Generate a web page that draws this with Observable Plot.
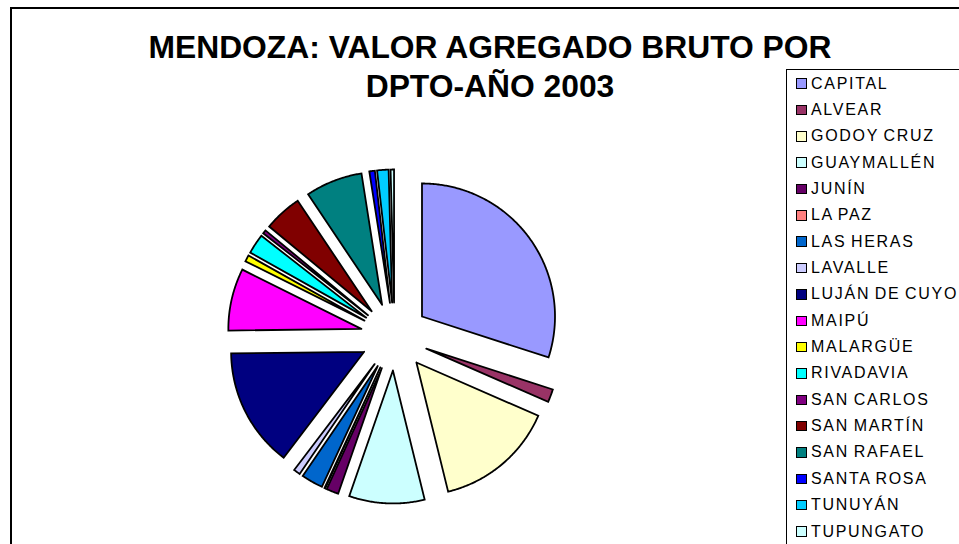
<!DOCTYPE html>
<html>
<head>
<meta charset="utf-8">
<script src="https://cdn.jsdelivr.net/npm/d3@7"></script>
<script src="https://cdn.jsdelivr.net/npm/@observablehq/plot@0.6"></script>
<style>
  html, body { margin: 0; padding: 0; background: #fff; overflow: hidden; }
  body { width: 959px; height: 544px; position: relative; font-family: "Liberation Sans", Arial, sans-serif; }
  #frame { position: absolute; left: 10px; top: 7px; width: 980px; height: 600px; border: 2px solid #000; box-sizing: border-box; }
  #chart { position: absolute; left: 0; top: 0; }
  #title { position: absolute; left: 140px; width: 700px; top: 28px; text-align: center; font-weight: bold; font-size: 31.8px; line-height: 39px; color: #000; }
  #legendbox { position: absolute; left: 786px; top: 69px; width: 300px; height: 600px; border: 1.5px solid #000; box-sizing: border-box; background: #fff; }
  #legend { position: absolute; left: 796px; top: 70.5px; }
  .item { display: flex; align-items: center; height: 26.35px; }
  .sw { width: 8.5px; height: 8.5px; border: 1.6px solid #000; margin-right: 4.5px; flex: none; }
  .lbl { font-size: 16px; letter-spacing: 1.7px; word-spacing: -1.5px; color: #000; white-space: nowrap; }
</style>
</head>
<body>
<div id="frame"></div>
<div id="chart"></div>
<div id="title">MENDOZA: VALOR AGREGADO BRUTO POR<br>DPTO-AÑO 2003</div>
<div id="legendbox"></div>
<div id="legend"></div>
<script>
// Departments (clockwise from 12 o'clock, same order as legend)
const departments = ["CAPITAL", "ALVEAR", "GODOY CRUZ", "GUAYMALLÉN", "JUNÍN", "LA PAZ", "LAS HERAS", "LAVALLE", "LUJÁN DE CUYO", "MAIPÚ", "MALARGÜE", "RIVADAVIA", "SAN CARLOS", "SAN MARTÍN", "SAN RAFAEL", "SANTA ROSA", "TUNUYÁN", "TUPUNGATO"];
// Share of gross value added (%)
const shares = [30.0, 1.58, 14.61, 9.17, 1.47, 0.1, 2.64, 0.81, 14.47, 7.56, 0.78, 2.42, 0.44, 4.61, 6.92, 0.67, 1.39, 0.42];
// Excel default pie palette
const palette = ["#9999FF", "#993366", "#FFFFCC", "#CCFFFF", "#660066", "#FF8080", "#0066CC", "#CCCCFF", "#000080", "#FF00FF", "#FFFF00", "#00FFFF", "#800080", "#800000", "#008080", "#0000FF", "#00CCFF", "#CCFFFF"];

// Layout (pixels)
const cx = 394, cy = 336, R = 133, explode = 34 / 133;

// Build slice polygons in unit-circle coordinates from the data
const arcs = d3.pie().sort(null).value((d, i) => shares[i])(departments);
const points = [];
arcs.forEach((a, i) => {
  const name = departments[i];
  const mid = (a.startAngle + a.endAngle) / 2;
  const ox = explode * Math.sin(mid), oy = explode * Math.cos(mid);
  const pts = [[ox, oy]];
  const n = Math.max(2, Math.ceil((a.endAngle - a.startAngle) / (Math.PI / 360)));
  for (let k = 0; k <= n; k++) {
    const t = a.startAngle + (a.endAngle - a.startAngle) * k / n;
    pts.push([ox + Math.sin(t), oy + Math.cos(t)]);
  }
  pts.push([ox, oy]);
  pts.forEach(([x, y]) => points.push({name, x, y}));
});

const plot = Plot.plot({
  width: 959,
  height: 544,
  margin: 0,
  style: {background: "transparent", overflow: "visible"},
  x: {domain: [-1, 1], range: [cx - R, cx + R], axis: null},
  y: {domain: [-1, 1], range: [cy + R, cy - R], axis: null},
  color: {domain: departments, range: palette},
  marks: [
    Plot.line(points, {x: "x", y: "y", z: "name", fill: "name", stroke: "#000", strokeWidth: 1.8, strokeLinejoin: "miter", strokeMiterlimit: 4})
  ]
});
document.getElementById("chart").appendChild(plot);

// Legend from the plot's color scale
const color = plot.scale("color");
const legend = document.getElementById("legend");
departments.forEach(name => {
  const item = document.createElement("div");
  item.className = "item";
  const sw = document.createElement("div");
  sw.className = "sw";
  sw.style.background = color.apply(name);
  const lbl = document.createElement("span");
  lbl.className = "lbl";
  lbl.textContent = name;
  item.appendChild(sw);
  item.appendChild(lbl);
  legend.appendChild(item);
});
</script>
</body>
</html>
